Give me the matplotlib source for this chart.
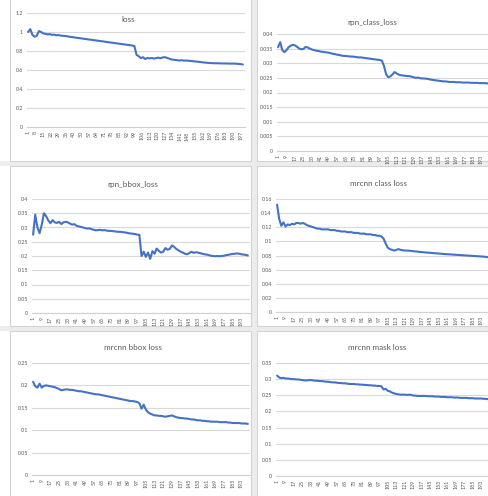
import matplotlib
matplotlib.use("Agg")
import matplotlib.pyplot as plt
from matplotlib.patches import Rectangle
from matplotlib.ticker import FuncFormatter

# epochs sampled every 2nd step
epochs = list(range(1, 200, 2))

loss = [1.00, 1.03, 0.97, 0.95, 0.96, 1.01, 1.00, 0.985, 0.98, 0.975,
        0.978, 0.97, 0.972, 0.965, 0.968, 0.962, 0.96, 0.958, 0.955, 0.95,
        0.947, 0.944, 0.941, 0.937, 0.935, 0.931, 0.928, 0.925, 0.921, 0.919,
        0.915, 0.912, 0.909, 0.905, 0.903, 0.899, 0.896, 0.893, 0.889, 0.887,
        0.883, 0.88, 0.877, 0.873, 0.871, 0.867, 0.864, 0.861, 0.857, 0.852,
        0.76, 0.745, 0.725, 0.735, 0.715, 0.728, 0.722, 0.726, 0.72, 0.725,
        0.73, 0.724, 0.732, 0.735, 0.728, 0.72, 0.712, 0.708, 0.705, 0.702,
        0.70, 0.703, 0.698, 0.70, 0.697, 0.695, 0.693, 0.69, 0.688, 0.685,
        0.682, 0.679, 0.677, 0.675, 0.673, 0.672, 0.671, 0.671, 0.67, 0.67,
        0.669, 0.669, 0.668, 0.668, 0.667, 0.668, 0.666, 0.664, 0.662, 0.658]

rpn_class_loss = [0.0355, 0.0372, 0.0345, 0.0338, 0.0345, 0.0355, 0.036, 0.0363, 0.0361, 0.0356,
                  0.035, 0.0348, 0.0349, 0.0356, 0.0354, 0.035, 0.0347, 0.0345, 0.0343, 0.0342,
                  0.034, 0.0339, 0.0338, 0.0337, 0.0336, 0.0334, 0.0332, 0.0331, 0.0329, 0.0328,
                  0.0326, 0.0325, 0.0325, 0.0324, 0.0323, 0.0323, 0.0322, 0.0321, 0.032, 0.032,
                  0.0319, 0.0318, 0.0317, 0.0316, 0.0315, 0.0314, 0.0313, 0.0312, 0.0311, 0.0309,
                  0.029, 0.0262, 0.0252, 0.0255, 0.0262, 0.027, 0.0265, 0.0261, 0.0259, 0.0258,
                  0.0257, 0.0256, 0.0256, 0.0254, 0.0252, 0.025, 0.0251, 0.0249, 0.0248, 0.0248,
                  0.0247, 0.0246, 0.0244, 0.0243, 0.0242, 0.0241, 0.024, 0.0239, 0.0238, 0.0238,
                  0.0237, 0.0236, 0.0236, 0.0236, 0.0235, 0.0235, 0.0235, 0.0234, 0.0234, 0.0234,
                  0.0234, 0.0233, 0.0233, 0.0233, 0.0233, 0.0232, 0.0232, 0.0232, 0.0232, 0.0231]

rpn_bbox_loss = [0.275, 0.345, 0.30, 0.28, 0.31, 0.35, 0.34, 0.325, 0.315, 0.326,
                 0.318, 0.316, 0.32, 0.312, 0.318, 0.32, 0.318, 0.314, 0.31, 0.312,
                 0.306, 0.304, 0.302, 0.30, 0.298, 0.296, 0.297, 0.294, 0.292, 0.29,
                 0.291, 0.292, 0.29, 0.291, 0.289, 0.288, 0.288, 0.287, 0.286, 0.285,
                 0.285, 0.284, 0.283, 0.282, 0.28, 0.279, 0.278, 0.277, 0.275, 0.274,
                 0.20, 0.215, 0.197, 0.212, 0.19, 0.217, 0.208, 0.226, 0.218, 0.212,
                 0.215, 0.228, 0.222, 0.225, 0.237, 0.232, 0.225, 0.22, 0.215, 0.212,
                 0.208, 0.206, 0.21, 0.215, 0.211, 0.213, 0.212, 0.21, 0.208, 0.206,
                 0.205, 0.203, 0.201, 0.20, 0.199, 0.20, 0.199, 0.20, 0.201, 0.203,
                 0.204, 0.206, 0.207, 0.208, 0.209, 0.208, 0.206, 0.205, 0.204, 0.202]

mrcnn_class_loss = [0.152, 0.132, 0.122, 0.127, 0.121, 0.124, 0.123, 0.125, 0.124, 0.126,
                    0.126, 0.125, 0.126, 0.125, 0.123, 0.122, 0.121, 0.12, 0.119, 0.118,
                    0.118, 0.117, 0.117, 0.117, 0.117, 0.116, 0.116, 0.116, 0.115, 0.115,
                    0.114, 0.114, 0.114, 0.113, 0.113, 0.113, 0.112, 0.112, 0.112, 0.111,
                    0.111, 0.111, 0.11, 0.11, 0.11, 0.109, 0.109, 0.108, 0.108, 0.107,
                    0.104, 0.097, 0.091, 0.089, 0.088, 0.087, 0.088, 0.089, 0.088, 0.0875,
                    0.087, 0.087, 0.0868, 0.0865, 0.086, 0.0858, 0.0855, 0.085, 0.0848, 0.0845,
                    0.0842, 0.084, 0.0838, 0.0835, 0.0832, 0.083, 0.0828, 0.0825, 0.0822, 0.082,
                    0.0818, 0.0816, 0.0814, 0.0812, 0.081, 0.0808, 0.0806, 0.0804, 0.0802, 0.08,
                    0.0798, 0.0796, 0.0794, 0.0792, 0.079, 0.0788, 0.0786, 0.0784, 0.078, 0.0776]

mrcnn_bbox_loss = [0.208, 0.198, 0.195, 0.204, 0.195, 0.199, 0.20, 0.199, 0.198, 0.197,
                   0.196, 0.194, 0.192, 0.189, 0.19, 0.191, 0.191, 0.19, 0.19, 0.189,
                   0.188, 0.187, 0.187, 0.186, 0.185, 0.184, 0.183, 0.182, 0.181, 0.18,
                   0.18, 0.179, 0.178, 0.177, 0.176, 0.175, 0.174, 0.173, 0.172, 0.171,
                   0.17, 0.169, 0.168, 0.167, 0.166, 0.165, 0.165, 0.164, 0.163, 0.16,
                   0.148, 0.157, 0.146, 0.14, 0.137, 0.135, 0.133, 0.133, 0.132, 0.132,
                   0.131, 0.13, 0.131, 0.132, 0.133, 0.131, 0.129, 0.128, 0.127, 0.127,
                   0.126, 0.126, 0.125, 0.124, 0.124, 0.123, 0.122, 0.122, 0.121, 0.121,
                   0.12, 0.12, 0.119, 0.119, 0.119, 0.119, 0.118, 0.118, 0.118, 0.118,
                   0.117, 0.117, 0.116, 0.116, 0.116, 0.116, 0.115, 0.115, 0.115, 0.114]

mrcnn_mask_loss = [0.311, 0.305, 0.303, 0.304, 0.302, 0.302, 0.301, 0.30, 0.30, 0.299,
                   0.299, 0.298, 0.297, 0.296, 0.296, 0.297, 0.297, 0.296, 0.295, 0.295,
                   0.294, 0.294, 0.293, 0.292, 0.292, 0.291, 0.29, 0.29, 0.289, 0.288,
                   0.288, 0.287, 0.287, 0.286, 0.285, 0.285, 0.285, 0.284, 0.284, 0.283,
                   0.283, 0.282, 0.282, 0.281, 0.281, 0.28, 0.28, 0.279, 0.279, 0.278,
                   0.268, 0.27, 0.264, 0.262, 0.258, 0.256, 0.254, 0.253, 0.252, 0.252,
                   0.252, 0.251, 0.252, 0.251, 0.249, 0.249, 0.248, 0.248, 0.248, 0.248,
                   0.248, 0.247, 0.247, 0.247, 0.246, 0.246, 0.246, 0.245, 0.245, 0.245,
                   0.244, 0.244, 0.244, 0.243, 0.243, 0.243, 0.242, 0.242, 0.242, 0.242,
                   0.241, 0.241, 0.241, 0.24, 0.24, 0.24, 0.24, 0.239, 0.239, 0.238]

titles = ["loss", "rpn_class_loss", "rpn_bbox_loss",
          "mrcnn class loss", "mrcnn bbox loss", "mrcnn mask loss"]
series = [loss, rpn_class_loss, rpn_bbox_loss,
          mrcnn_class_loss, mrcnn_bbox_loss, mrcnn_mask_loss]
y_max = [1.2, 0.04, 0.4, 0.16, 0.25, 0.35]
y_step = [0.2, 0.005, 0.05, 0.02, 0.05, 0.05]
xtick_labels = [list(range(1, 200, 7))] + [list(range(1, 200, 8))] * 5

for s in series:
    assert len(s) == len(epochs)

W, H = 488, 496
fig = plt.figure(figsize=(W / 100, H / 100), dpi=100)
fig.patch.set_facecolor("white")
plt.rcParams["font.family"] = ["Lato", "DejaVu Sans"]

# panel frames (left, top, right, bottom in pixels)
frames = [(10, -5, 251, 161), (257, -5, 495, 161),
          (10, 166, 251, 326), (257, 166, 495, 326),
          (10, 331, 251, 500), (257, 331, 495, 500)]
# gray gaps between the chart objects
for l, t, r, b in [(0, 161, W, 166), (0, 326, W, 331), (251, 0, 257, H)]:
    fig.patches.append(Rectangle((l / W, 1 - b / H), (r - l) / W, (b - t) / H,
                                 transform=fig.transFigure, facecolor="#ececec",
                                 edgecolor="none", zorder=-2))
for l, t, r, b in frames:
    fig.patches.append(Rectangle((l / W, 1 - b / H), (r - l) / W, (b - t) / H,
                                 transform=fig.transFigure, facecolor="white",
                                 edgecolor="#d4d4d4", linewidth=0.8, zorder=-1))

# plot areas (left, top, right, bottom in pixels) and title positions
areas = [(27, 13, 245, 127), (277, 34, 490, 151),
         (32, 199, 250, 313), (276, 199, 490, 312),
         (32, 363, 250, 475), (276, 363, 490, 476)]
title_pos = [(128, 20), (372, 23), (133, 184), (378, 184), (133, 347), (377, 347)]

gray = "#595959"
for i in range(6):
    l, t, r, b = areas[i]
    ax = fig.add_axes([l / W, 1 - b / H, (r - l) / W, (b - t) / H])
    ax.set_zorder(5)
    ax.set_facecolor("none")
    ax.plot(epochs, series[i], color="#4472C4", linewidth=1.5, solid_capstyle="round")
    ax.set_xlim(0, 201)
    ax.set_ylim(0, y_max[i])
    n = int(round(y_max[i] / y_step[i]))
    ax.set_yticks([k * y_step[i] for k in range(n + 1)])
    ax.yaxis.set_major_formatter(FuncFormatter(lambda v, p: "{:g}".format(round(v, 4))))
    ax.set_xticks(xtick_labels[i])
    ax.set_xticklabels([str(v) for v in xtick_labels[i]], rotation=90)
    ax.tick_params(axis="both", length=0, colors=gray, labelsize=3.8, pad=3)
    ax.grid(axis="y", color="#d9d9d9", linewidth=0.8)
    ax.set_axisbelow(True)
    for sp in ["top", "right", "left"]:
        ax.spines[sp].set_visible(False)
    ax.spines["bottom"].set_color("#d0d0d0")
    ax.spines["bottom"].set_linewidth(0.8)
    tx, ty = title_pos[i]
    fig.text(tx / W, 1 - ty / H, titles[i], ha="center", va="center",
             fontsize=5.8, color=gray, zorder=6)

fig.savefig("out.png", dpi=100, facecolor=fig.get_facecolor())
